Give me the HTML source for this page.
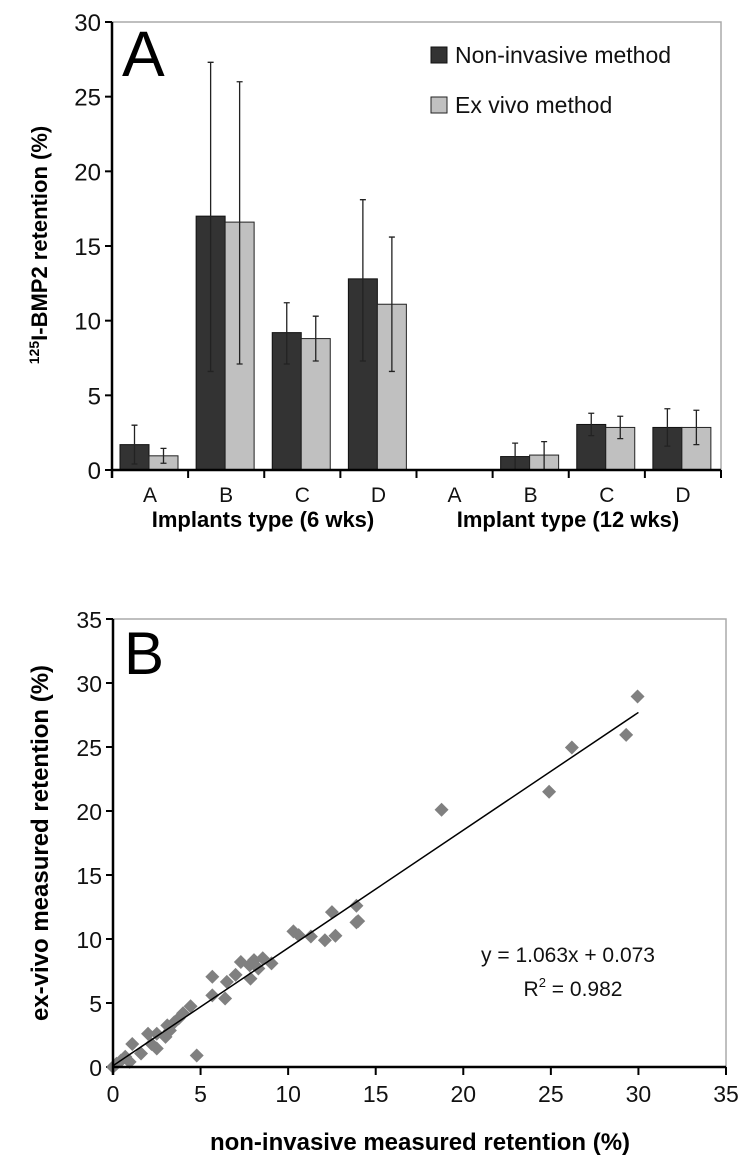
<!DOCTYPE html>
<html><head><meta charset="utf-8"><style>
body{margin:0;background:#fff;}
svg{display:block;font-family:"Liberation Sans",Arial,sans-serif;}
</style></head><body>
<svg id="s" width="750" height="1171" viewBox="0 0 750 1171"></svg>
<script>
// ---- Chart A data
const catsA = ["A","B","C","D","A","B","C","D"];
const nonInv = [1.7,17.0,9.2,12.8,0,0.9,3.05,2.85];
const nonInvLo = [0.4,6.6,7.1,7.3,0,0,2.3,1.6];
const nonInvHi = [3.0,27.3,11.2,18.1,0,1.8,3.8,4.1];
const exVivo = [0.95,16.6,8.8,11.1,0,1.0,2.85,2.85];
const exVivoLo = [0.45,7.1,7.3,6.6,0,0,2.1,1.7];
const exVivoHi = [1.45,26.0,10.3,15.6,0,1.9,3.6,4.0];
const yTicksA = [0,5,10,15,20,25,30];
// ---- Chart B data
const ptsX = [29.95,29.3,26.2,24.9,18.76,13.9,14.0,13.9,12.5,12.7,12.1,11.3,10.3,10.6,9.05,8.55,8.05,7.3,7.8,8.3,7.85,7.0,6.5,6.4,5.67,5.67,4.43,4.78,4.0,3.75,3.5,3.1,3.25,3.0,2.5,2.0,2.5,2.2,1.1,1.6,0.7,0.45,0.2,0,0.95];
const ptsY = [28.95,25.95,24.96,21.5,20.1,12.6,11.4,11.3,12.1,10.25,9.9,10.2,10.6,10.3,8.1,8.5,8.35,8.2,7.95,7.7,6.9,7.2,6.65,5.35,7.05,5.6,4.75,0.9,4.2,3.8,3.5,3.25,2.85,2.35,2.6,2.6,1.45,1.8,1.8,1.05,0.8,0.5,0.25,0,0.4];
// drawn trendline as it appears in the figure
const lineSlope = 0.92, lineIntercept = 0.1, lineXEnd = 30;
const ticksB = [0,5,10,15,20,25,30,35];

const s = document.getElementById('s');
const NS = "http://www.w3.org/2000/svg";
function mk(tag, attrs, parent, text){
  const e = document.createElementNS(NS, tag);
  for (const k in attrs) e.setAttribute(k, attrs[k]);
  if (text !== undefined) e.textContent = text;
  (parent || s).appendChild(e);
  return e;
}

// ===== Chart A =====
const AL=112, AR=721, AT=22, AB=470;
const ay = v => AB - v/30*(AB-AT);
const step = (AR-AL)/catsA.length;
const gA = mk('g',{});  
let e;
e = mk('rect',{x:AL,y:AT,width:AR-AL,height:AB-AT,fill:'none',stroke:'#aaa','stroke-width':1.5},gA);
 
yTicksA.forEach(t=>{
  e = mk('line',{x1:AL-7,x2:AL,y1:ay(t),y2:ay(t),stroke:'#000','stroke-width':2},gA);
   
  e = mk('text',{x:AL-11,y:ay(t)+9,'text-anchor':'end','font-size':24,fill:'#111'},gA,String(t));
   
});
function errbar(cx, lo, hi){
  if (hi<=lo) return;
  e = mk('path',{d:`M${cx},${ay(lo)}V${ay(hi)}M${cx-3},${ay(lo)}H${cx+3}M${cx-3},${ay(hi)}H${cx+3}`,stroke:'#222','stroke-width':1.3,fill:'none'},gA);
   
}
catsA.forEach((c,i)=>{
  const gx = AL + i*step;
  if (nonInv[i]>0){
    e = mk('rect',{x:gx+8,y:ay(nonInv[i]),width:29,height:AB-ay(nonInv[i]),fill:'#333',stroke:'#111','stroke-width':1},gA);
     
  }
  if (exVivo[i]>0){
    e = mk('rect',{x:gx+37,y:ay(exVivo[i]),width:29,height:AB-ay(exVivo[i]),fill:'#c0c0c0',stroke:'#222','stroke-width':1},gA);
     
  }
  errbar(gx+22.5, nonInvLo[i], nonInvHi[i]);
  errbar(gx+51.5, exVivoLo[i], exVivoHi[i]);
  e = mk('line',{x1:gx+step,x2:gx+step,y1:AB,y2:AB+8,stroke:'#000','stroke-width':2},gA);
   
  e = mk('text',{x:gx+step/2,y:502,'text-anchor':'middle','font-size':21,fill:'#111'},gA,c);
   
});
e = mk('line',{x1:AL,x2:AL,y1:AT,y2:AB+8,stroke:'#000','stroke-width':2.5},gA);
 
e = mk('line',{x1:AL,x2:AR,y1:AB,y2:AB,stroke:'#000','stroke-width':2.5},gA);
 
e = mk('text',{x:263,y:527,'text-anchor':'middle','font-size':22,'font-weight':'bold'},gA,'Implants type (6 wks)');
 
e = mk('text',{x:568,y:527,'text-anchor':'middle','font-size':22,'font-weight':'bold'},gA,'Implant type (12 wks)');
 
e = mk('text',{transform:'translate(47,245) rotate(-90)','text-anchor':'middle','font-size':22,'font-weight':'bold'},gA);
 
mk('tspan',{'font-size':14,dy:-8},e,'125');
mk('tspan',{dy:8},e,'I-BMP2 retention (%)');
e = mk('text',{x:122,y:76,'font-size':64},gA,'A');
 
// legend
e = mk('rect',{x:431,y:47,width:16,height:16,fill:'#333',stroke:'#111'},gA);
 
e = mk('text',{x:455,y:63,'font-size':23,fill:'#111'},gA,'Non-invasive method');
 
e = mk('rect',{x:431,y:97,width:16,height:16,fill:'#c0c0c0',stroke:'#222'},gA);
 
e = mk('text',{x:455,y:113,'font-size':23,fill:'#111'},gA,'Ex vivo method');
 

// ===== Chart B =====
const BL=113, BR=726, BT=619, BB=1067;
const bx = v => BL + v/35*(BR-BL);
const by = v => BB - v/35*(BB-BT);
const gB = mk('g',{});  
e = mk('rect',{x:BL,y:BT,width:BR-BL,height:BB-BT,fill:'none',stroke:'#aaa','stroke-width':1.5},gB);
 
ticksB.forEach(t=>{
  e = mk('line',{x1:BL-7,x2:BL,y1:by(t),y2:by(t),stroke:'#000','stroke-width':2},gB);
   
  e = mk('text',{x:BL-11,y:by(t)+9,'text-anchor':'end','font-size':23,fill:'#111'},gB,String(t));
   
  e = mk('line',{x1:bx(t),x2:bx(t),y1:BB,y2:BB+8,stroke:'#000','stroke-width':2},gB);
   
  e = mk('text',{x:bx(t),y:BB+35,'text-anchor':'middle','font-size':23,fill:'#111'},gB,String(t));
   
});
ptsX.forEach((vx,i)=>{
  const cx=bx(vx), cy=by(ptsY[i]);
  e = mk('path',{d:`M${cx},${cy-7}L${cx+7},${cy}L${cx},${cy+7}L${cx-7},${cy}Z`,fill:'#808080'},gB);
   
});
e = mk('line',{x1:bx(0),y1:by(lineIntercept),x2:bx(lineXEnd),y2:by(lineSlope*lineXEnd+lineIntercept),stroke:'#000','stroke-width':1.5},gB);
 
e = mk('line',{x1:BL,x2:BL,y1:BT,y2:BB+8,stroke:'#000','stroke-width':2.5},gB);
 
e = mk('line',{x1:BL,x2:BR,y1:BB,y2:BB,stroke:'#000','stroke-width':2.5},gB);
 
e = mk('text',{x:568,y:962,'text-anchor':'middle','font-size':21,fill:'#111'},gB,'y = 1.063x + 0.073');
 
e = mk('text',{x:573,y:996,'text-anchor':'middle','font-size':21,fill:'#111'},gB);
 
mk('tspan',{},e,'R');
mk('tspan',{'font-size':13,dy:-9},e,'2');
mk('tspan',{dy:9},e,' = 0.982');
e = mk('text',{x:420,y:1150,'text-anchor':'middle','font-size':24,'font-weight':'bold'},gB,'non-invasive measured retention (%)');
 
e = mk('text',{x:0,y:0,transform:'translate(48,843) rotate(-90)','text-anchor':'middle','font-size':24,'font-weight':'bold'},gB,'ex-vivo measured retention (%)');
 
e = mk('text',{x:124,y:674,'font-size':60},gB,'B');
 
</script>
</body></html>
